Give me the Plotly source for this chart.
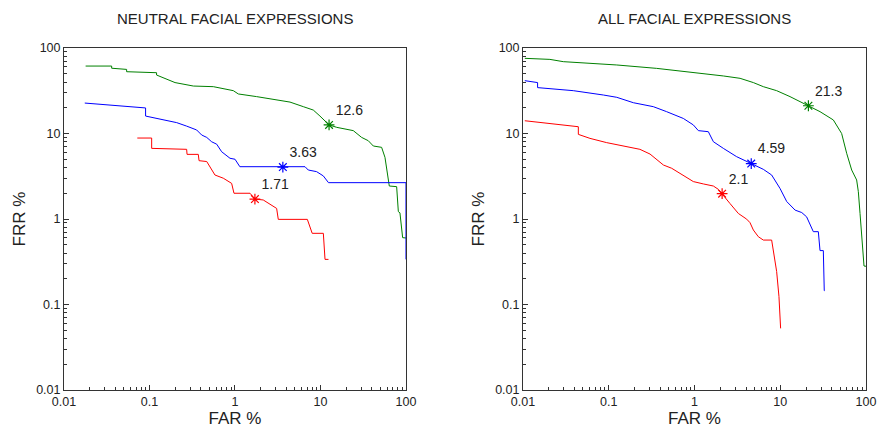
import plotly.graph_objects as go

# ---------------- data ----------------
# Left panel: NEUTRAL FACIAL EXPRESSIONS
n_green_far = [0.0179, 0.0361, 0.0361, 0.054, 0.054, 0.121, 0.121, 0.159, 0.199, 0.326, 0.558, 0.956, 1.094, 1.79, 3.07, 4.40, 6.30, 8.24, 9.86, 12.6, 15.5, 24.2, 30.3, 36.2, 41.5, 51.9, 56.8, 63.8, 77.8, 81.4, 85.0, 91.4, 100]
n_green_frr = [61.5, 61.5, 58.0, 56.2, 52.8, 51.4, 48.3, 43.0, 39.4, 35.9, 35.3, 31.7, 29.0, 27.0, 24.7, 23.3, 20.6, 18.8, 16.0, 12.6, 11.8, 10.8, 9.0, 8.24, 7.14, 6.89, 5.26, 2.43, 2.39, 1.22, 1.18, 0.605, 0.6]

n_blue_far = [0.0175, 0.090, 0.090, 0.145, 0.208, 0.272, 0.356, 0.408, 0.467, 0.534, 0.611, 0.698, 0.874, 1.0, 1.14, 3.63, 6.59, 7.2, 9.0, 10.8, 12.4, 100, 100]
n_blue_frr = [22.7, 19.9, 16.0, 14.4, 13.4, 12.2, 11.0, 9.6, 9.0, 8.0, 7.5, 6.12, 5.13, 5.0, 4.09, 4.09, 4.09, 3.74, 3.58, 3.19, 2.66, 2.66, 0.337]

n_red_far = [0.072, 0.106, 0.106, 0.272, 0.275, 0.372, 0.38, 0.467, 0.583, 0.73, 0.914, 0.973, 1.50, 1.71, 2.14, 2.56, 3.07, 3.21, 7.02, 8.0, 10.8, 11.3, 12.4]
n_red_frr = [8.85, 8.85, 6.7, 6.53, 5.70, 5.70, 4.81, 4.7, 3.27, 3.0, 2.61, 2.0, 2.0, 1.71, 1.67, 1.50, 1.33, 0.99, 0.99, 0.68, 0.68, 0.337, 0.337]

n_eer = [12.6, 3.63, 1.71]
n_eer_frr = [12.6, 4.05, 1.71]

# Right panel: ALL FACIAL EXPRESSIONS
a_green_far = [0.0105, 0.0206, 0.0295, 0.0723, 0.124, 0.362, 0.62, 1.27, 2.17, 3.40, 4.86, 6.35, 9.08, 13.0, 17.0, 21.3, 29.1, 41.6, 52.0, 59.5, 68.1, 77.8, 81.4, 85.2, 91.5, 94.8, 100]
a_green_frr = [75.7, 73.6, 69.2, 66.2, 63.3, 57.8, 54.3, 50.6, 47.1, 44.2, 39.4, 35.3, 31.7, 27.0, 23.6, 21.3, 18.0, 14.4, 10.0, 5.87, 3.74, 2.86, 2.09, 1.16, 0.497, 0.282, 0.28]

a_blue_far = [0.0105, 0.0148, 0.0148, 0.0386, 0.0865, 0.124, 0.194, 0.331, 0.473, 0.741, 0.969, 1.11, 1.45, 1.66, 2.17, 3.10, 4.59, 6.35, 7.94, 9.93, 11.9, 14.9, 17.8, 20.3, 24.3, 27.8, 29.1, 31.8, 32.6, 33.0]
a_blue_frr = [41.5, 39.4, 34.4, 31.7, 28.2, 26.5, 22.9, 20.6, 18.0, 15.0, 12.6, 10.8, 10.5, 8.02, 6.70, 5.36, 4.45, 3.81, 3.27, 2.28, 1.60, 1.27, 1.19, 1.06, 0.711, 0.711, 0.427, 0.427, 0.145, 0.145]

a_red_far = [0.0105, 0.0442, 0.0442, 0.0604, 0.0946, 0.148, 0.231, 0.303, 0.434, 0.542, 0.741, 0.969, 1.27, 1.66, 1.90, 2.1, 2.59, 3.25, 4.06, 4.44, 4.86, 5.55, 6.35, 7.94, 8.30, 9.08, 9.66, 10.1]
a_red_frr = [14.1, 12.0, 9.77, 8.77, 7.82, 7.14, 6.53, 5.75, 4.28, 3.92, 3.27, 2.74, 2.57, 2.43, 2.22, 1.98, 1.52, 1.16, 0.996, 0.906, 0.743, 0.621, 0.567, 0.567, 0.415, 0.243, 0.124, 0.0526]

a_eer = [21.3, 4.59, 2.1]
a_eer_frr = [21.1, 4.45, 1.98]

eer_labels_n = ["12.6", "3.63", "1.71"]
eer_labels_a = ["21.3", "4.59", "2.1"]

tick_vals = [0.01, 0.1, 1, 10, 100]
tick_text = ["0.01", "0.1", "1", "10", "100"]

GREEN = "#008000"
BLUE = "#0000ff"
RED = "#ff0000"
COLORS = [GREEN, BLUE, RED]

FONT = "Liberation Sans, Arial"

# ---------------- figure ----------------
fig = go.Figure()

def add_panel(xa, ya, curves, eer_x, eer_y, labels):
    for (fx, fy), c in zip(curves, COLORS):
        fig.add_trace(go.Scatter(x=fx, y=fy, mode="lines", line=dict(color=c, width=1),
                                 xaxis=xa, yaxis=ya, showlegend=False, hoverinfo="skip"))
    for ex, ey, lab, c in zip(eer_x, eer_y, labels, COLORS):
        fig.add_trace(go.Scatter(x=[ex], y=[ey], mode="markers+text", text=[lab],
                                 textposition="top right",
                                 textfont=dict(size=14, color="#222", family=FONT),
                                 marker=dict(symbol="asterisk-open", size=9,
                                             line=dict(color=c, width=1.2), color=c),
                                 xaxis=xa, yaxis=ya, showlegend=False, hoverinfo="skip"))

add_panel("x", "y",
          [(n_green_far, n_green_frr), (n_blue_far, n_blue_frr), (n_red_far, n_red_frr)],
          n_eer, n_eer_frr, eer_labels_n)
add_panel("x2", "y2",
          [(a_green_far, a_green_frr), (a_blue_far, a_blue_frr), (a_red_far, a_red_frr)],
          a_eer, a_eer_frr, eer_labels_a)

minor_vals = [m * 10 ** e for e in range(-2, 2) for m in range(2, 10)]

axis_common = dict(
    type="log", range=[-2, 2], showgrid=False, zeroline=False, automargin=False,
    showline=True, linecolor="#333", linewidth=1, mirror=True,
    ticks="inside", ticklen=5, tickcolor="#333",
    tickvals=tick_vals, ticktext=tick_text, ticklabeloverflow="allow",
    tickfont=dict(size=12.5, color="#222", family=FONT),
    minor=dict(ticks="inside", ticklen=3, tickcolor="#333", tickvals=minor_vals, showgrid=False),
)

title_font = dict(size=17, color="#222", family=FONT)

fig.update_layout(
    width=878, height=435,
    margin=dict(l=64, r=12, t=48, b=45),
    paper_bgcolor="white", plot_bgcolor="white",
    font=dict(family=FONT, color="#222"),
    xaxis=dict(axis_common, domain=[0, 0.4264], anchor="y",
               title=dict(text="FAR %", font=title_font, standoff=4)),
    yaxis=dict(axis_common, domain=[0, 1], anchor="x",
               title=dict(text="FRR %", font=title_font, standoff=6)),
    xaxis2=dict(axis_common, domain=[0.5723, 1], anchor="y2",
                title=dict(text="FAR %", font=title_font, standoff=4)),
    yaxis2=dict(axis_common, domain=[0, 1], anchor="x2",
                title=dict(text="FRR %", font=title_font, standoff=6)),
    annotations=[
        dict(text="NEUTRAL FACIAL EXPRESSIONS", x=0.2132, y=1, xref="paper", yref="paper",
             yshift=30, showarrow=False, xanchor="center", yanchor="middle",
             font=dict(size=15, color="#222", family=FONT)),
        dict(text="ALL FACIAL EXPRESSIONS", x=0.7862, y=1, xref="paper", yref="paper",
             yshift=30, showarrow=False, xanchor="center", yanchor="middle",
             font=dict(size=15, color="#222", family=FONT)),
    ],
)

# remove the default page margin/scrollbar so the 878x435 figure fills the window exactly
fig.write_html("out.html",
               config={"displayModeBar": False},
               post_script="document.body.style.margin='0';document.body.style.overflow='hidden';")
